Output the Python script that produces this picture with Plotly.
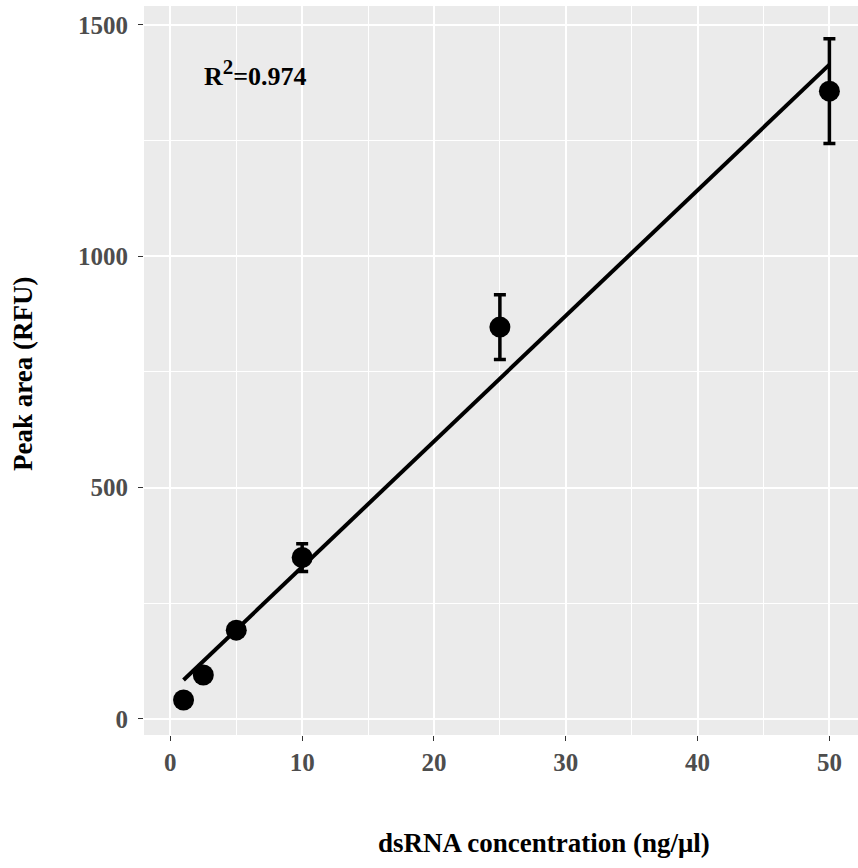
import numpy as np
import plotly.graph_objects as go

conc = [1, 2.5, 5, 10, 25, 50]
peak_area = [41, 95, 192, 349, 847, 1357]
err = [6, 8, 10, 30, 70, 113]
r2_label = "R<sup><span style='font-size:21px'>2</span></sup>=0.974"
x_title = "dsRNA concentration (ng/μl)"
y_title = "Peak area (RFU)"

slope, intercept = np.polyfit(conc, peak_area, 1)
fit_x = [min(conc), max(conc)]
fit_y = [slope * v + intercept for v in fit_x]

FONT = "Liberation Serif"
W, H = 858, 868
L, R, T, B = 144, 0, 6, 133
PW, PH = W - L - R, H - T - B

fig = go.Figure()
fig.add_trace(go.Scatter(
    x=fit_x, y=fit_y, mode="lines",
    line=dict(color="black", width=4), showlegend=False, hoverinfo="skip"))
fig.add_trace(go.Scatter(
    x=conc, y=peak_area, mode="markers",
    marker=dict(color="black", size=21),
    error_y=dict(type="data", array=err, visible=True, color="black",
                 thickness=3.5, width=6),
    showlegend=False))

fig.update_layout(
    width=W, height=H,
    margin=dict(l=L, r=R, t=T, b=B, autoexpand=False),
    paper_bgcolor="white", plot_bgcolor="#EBEBEB",
    font=dict(family=FONT),
    annotations=[
        dict(text=r2_label, x=(202 - L) / PW, y=(T + PH - 73) / PH,
             xref="paper", yref="paper",
             xanchor="left", yanchor="middle", showarrow=False,
             font=dict(family=FONT, size=26, color="black", weight="bold")),
        dict(text=x_title, x=(544 - L) / PW, y=-(843 - (T + PH)) / PH,
             xref="paper", yref="paper", xanchor="center", yanchor="middle",
             showarrow=False,
             font=dict(family=FONT, size=27, color="black", weight="bold")),
        dict(text=y_title, x=-(L - 23) / PW, y=(T + PH - 374) / PH,
             xref="paper", yref="paper", xanchor="center", yanchor="middle",
             textangle=-90, showarrow=False,
             font=dict(family=FONT, size=27, color="black", weight="bold")),
    ],
)

fig.update_xaxes(
    range=[-2.0, 52.17], tickvals=[0, 10, 20, 30, 40, 50],
    showgrid=True, gridcolor="white", gridwidth=1.5,
    minor=dict(tickvals=[5, 15, 25, 35, 45], showgrid=True,
               gridcolor="white", gridwidth=0.8, ticks=""),
    ticks="outside", ticklen=5, tickwidth=1.2, tickcolor="#333333",
    tickfont=dict(family=FONT, size=25, color="#4D4D4D", weight="bold"),
    zeroline=False, showline=False, automargin=False,
)
fig.update_yaxes(
    range=[-34.6, 1541], tickvals=[0, 500, 1000, 1500],
    showgrid=True, gridcolor="white", gridwidth=1.5,
    minor=dict(tickvals=[250, 750, 1250], showgrid=True,
               gridcolor="white", gridwidth=0.8, ticks=""),
    ticks="outside", ticklen=5, tickwidth=1.2, tickcolor="#333333",
    tickfont=dict(family=FONT, size=25, color="#4D4D4D", weight="bold"),
    ticklabelstandoff=5,
    zeroline=False, showline=False, automargin=False,
)

fig.write_html(
    "out.html",
    config={"displayModeBar": False},
    post_script="document.body.style.margin='0';document.body.style.padding='0';",
)
